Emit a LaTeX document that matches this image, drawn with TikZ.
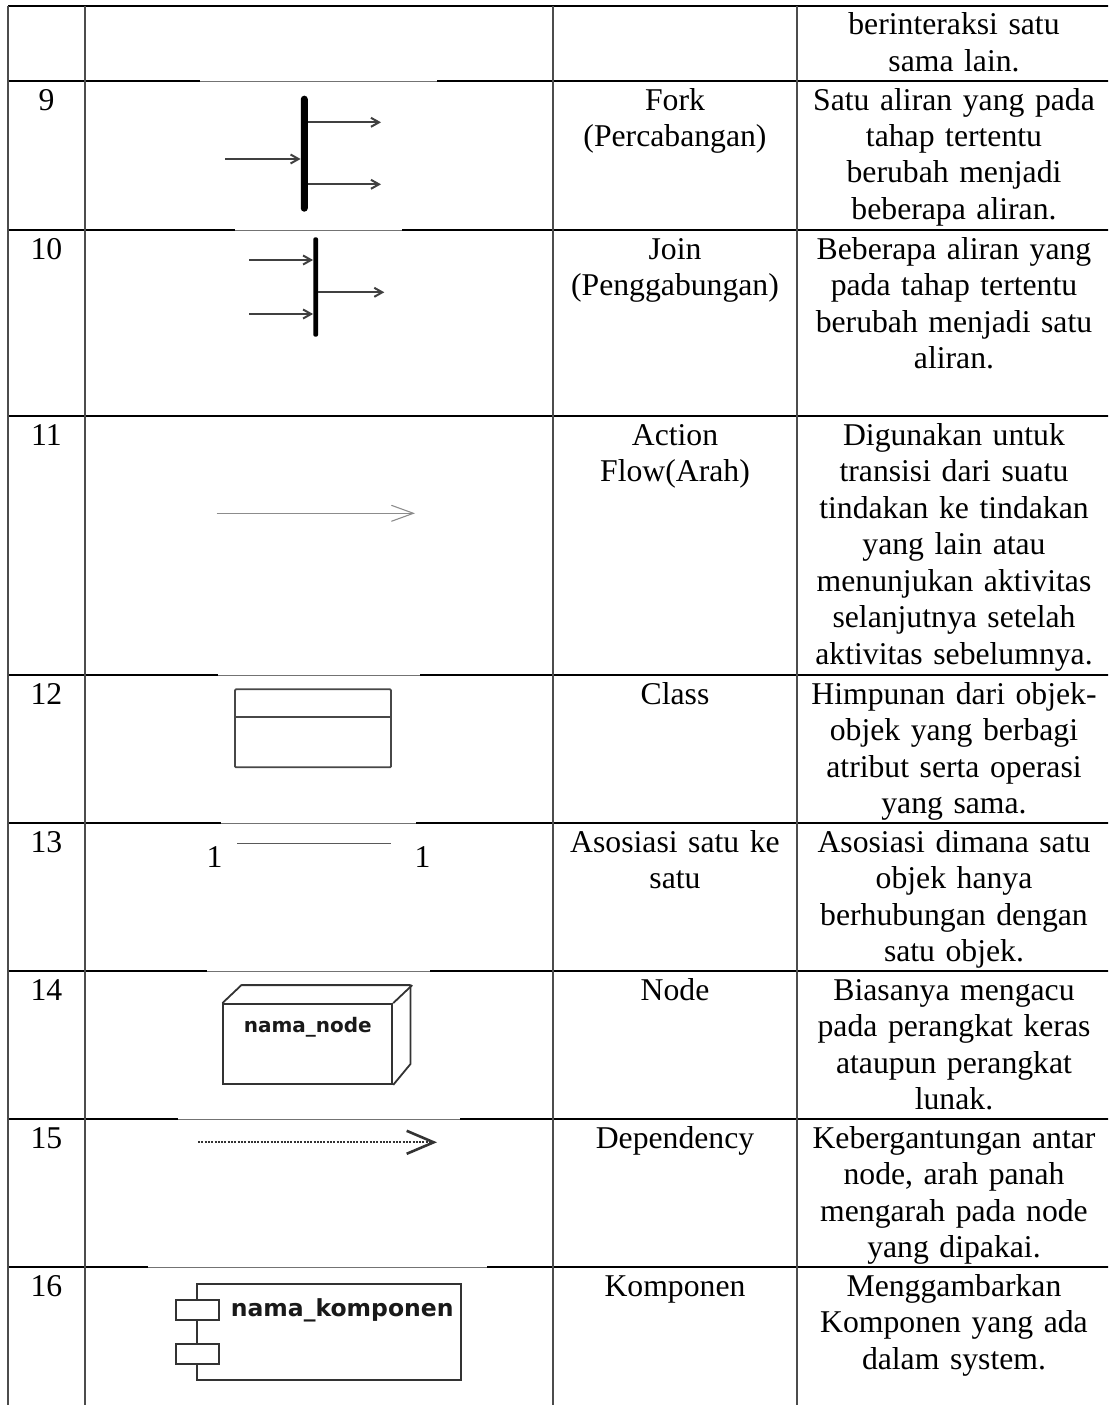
\documentclass[tikz,border=0pt]{standalone}
\usepackage{fontspec}
\setmainfont{Liberation Serif}
\newfontfamily\umlfont{DejaVu Sans}
\usetikzlibrary{arrows.meta, positioning}
\tikzstyle{cell} = [font=\fontsize{31.7}{36.5}\selectfont, anchor=base, align=center, inner sep=0pt]
\tikzstyle{hrule} = [line width=2pt, black]
\tikzstyle{vrule} = [line width=1.3pt, black!70]
\tikzstyle{umlbox} = [draw=black!80, line width=1.8pt, inner sep=0pt]
\tikzstyle{umltext} = [inner sep=0pt, text=black!90]
\tikzstyle{bar} = [fill=black, inner sep=0pt, rounded corners=2pt]
\tikzstyle{flow} = [-{Straight Barb[length=8pt,width=9pt]}, line width=2pt, black!75]

\begin{document}
\begin{tikzpicture}[x=1pt, y=-1pt]
    \useasboundingbox (0,0) rectangle (1108,1405);
    \clip (0,0) rectangle (1108,1405);

    % table rules
    \foreach \y in {6,81,230,416,675,823,971,1119,1267}
        \draw[hrule] (8,\y) -- (1120,\y);
    \foreach \x in {8,85,553,797}
        \draw[vrule] (\x,6) -- (\x,1410);
    % edges of the pasted symbol pictures
    \foreach \y/\a/\b in {81/200/437, 230/235/402, 675/218/420, 823/221/416, 971/207/430, 1119/178/460, 1267/148/487} {
        \draw[white, line width=2.6pt] (\a,\y) -- (\b,\y);
        \draw[black!55, line width=1pt] (\a,\y) -- (\b,\y);
    }

    % numbers
    \foreach \t/\n in {81/9, 230/10, 416/11, 675/12, 823/13, 971/14, 1119/15, 1267/16}
        \node (num \n) [cell, text width=70pt] at (46.5,\t+29) {\n};

    % names
    \node (name 9) [cell, text width=240pt] at (675,110) {Fork\\(Percabangan)};
    \node (name 10) [cell, text width=240pt] at (675,259) {Join\\(Penggabungan)};
    \node (name 11) [cell, text width=240pt] at (675,445) {Action\\Flow(Arah)};
    \node (name 12) [cell, text width=240pt] at (675,704) {Class};
    \node (name 13) [cell, text width=240pt] at (675,852) {Asosiasi satu ke\\satu};
    \node (name 14) [cell, text width=240pt] at (675,1000) {Node};
    \node (name 15) [cell, text width=240pt] at (675,1148) {Dependency};
    \node (name 16) [cell, text width=240pt] at (675,1296) {Komponen};

    % descriptions
    \node (desc 8) [cell, text width=310pt] at (954,35) {berinteraksi satu\\sama lain.};
    \node (desc 9) [cell, text width=310pt] at (954,110) {Satu aliran yang pada\\tahap tertentu\\berubah menjadi\\beberapa aliran.};
    \node (desc 10) [cell, text width=310pt] at (954,259) {Beberapa aliran yang\\pada tahap tertentu\\berubah menjadi satu\\aliran.};
    \node (desc 11) [cell, text width=310pt] at (954,445) {Digunakan untuk\\transisi dari suatu\\tindakan ke tindakan\\yang lain atau\\menunjukan aktivitas\\selanjutnya setelah\\aktivitas sebelumnya.};
    \node (desc 12) [cell, text width=310pt] at (954,704) {Himpunan dari objek-\\objek yang berbagi\\atribut serta operasi\\yang sama.};
    \node (desc 13) [cell, text width=310pt] at (954,852) {Asosiasi dimana satu\\objek hanya\\berhubungan dengan\\satu objek.};
    \node (desc 14) [cell, text width=310pt] at (954,1000) {Biasanya mengacu\\pada perangkat keras\\ataupun perangkat\\lunak.};
    \node (desc 15) [cell, text width=310pt] at (954,1148) {Kebergantungan antar\\node, arah panah\\mengarah pada node\\yang dipakai.};
    \node (desc 16) [cell, text width=310pt] at (954,1296) {Menggambarkan\\Komponen yang ada\\dalam system.};

    % fork
    \node (fork bar) [bar, minimum width=7pt, minimum height=116pt, rounded corners=3.4pt] at (304.3,153.7) {};
    \coordinate (fork in) at (225,159);
    \coordinate (fork out 1) at (381,122.3);
    \coordinate (fork out 2) at (381,184.3);
    \draw[flow] (fork in) -- (fork in -| fork bar.west);
    \draw[flow] (fork out 1 -| fork bar.east) -- (fork out 1);
    \draw[flow] (fork out 2 -| fork bar.east) -- (fork out 2);

    % join
    \node (join bar) [bar, minimum width=4.8pt, minimum height=99.4pt] at (315.7,287) {};
    \coordinate (join in 1) at (249.3,260);
    \coordinate (join in 2) at (249.3,314);
    \coordinate (join out) at (384.3,292.3);
    \draw[flow] (join in 1) -- (join in 1 -| join bar.west);
    \draw[flow] (join in 2) -- (join in 2 -| join bar.west);
    \draw[flow] (join out -| join bar.east) -- (join out);

    % action flow
    \coordinate (flow start) at (216.7,513.3);
    \coordinate (flow end) at (415,513.3);
    \draw[-{Straight Barb[length=22pt,width=16pt,line width=1.1pt]}, line width=1.2pt, black!45] (flow start) -- (flow end);

    % class
    \node (class box) [umlbox, draw=black!72, rounded corners=1pt, minimum width=156pt, minimum height=78pt] at (313,728.3) {};
    \draw[line width=1.8pt, black!72] ([yshift=-28.4pt]class box.north west) -- ([yshift=-28.4pt]class box.north east);

    % association
    \coordinate (assoc left) at (237,843.3);
    \coordinate (assoc right) at (391,843.3);
    \draw[line width=1.5pt, black!65] (assoc left) -- (assoc right);
    \node (mult left) [cell] at (214.5,867) {1};
    \node (mult right) [cell] at (422.5,867) {1};

    % node
    \node (node box) [umlbox, minimum width=169pt, minimum height=80pt] at (307.8,1044) {};
    \draw[line width=1.8pt, black!80, line join=round] (node box.north west) -- ++(19,-18) -- ++(169,0) -- ++(0,79) -- (node box.south east);
    \draw[line width=1.8pt, black!80] (node box.north east) -- ++(19,-18);
    \node (node label) [umltext, below=14pt of node box.north, font=\umlfont\bfseries\fontsize{20}{22}\selectfont] {nama\_node};

    % dependency
    \coordinate (dep start) at (198,1142.3);
    \coordinate (dep end) at (437,1142.3);
    \draw[dash pattern=on 2pt off 1.3pt, line width=1.8pt, black!80, -{Straight Barb[length=27pt,width=23pt,line width=2.6pt]}] (dep start) -- (dep end);

    % component
    \node (komp box) [umlbox, minimum width=263.7pt, minimum height=95.7pt] at (329.2,1332.2) {};
    \node (port 1) [umlbox, fill=white, minimum width=43pt, minimum height=20pt] at (197.3,1310) {};
    \node (port 2) [umlbox, fill=white, minimum width=43pt, minimum height=20pt] at (197.3,1354) {};
    \node (komp label) [umltext, below=14.5pt of komp box.north, xshift=13pt, font=\umlfont\bfseries\fontsize{23.5}{26}\selectfont] {nama\_komponen};
\end{tikzpicture}
\end{document}
